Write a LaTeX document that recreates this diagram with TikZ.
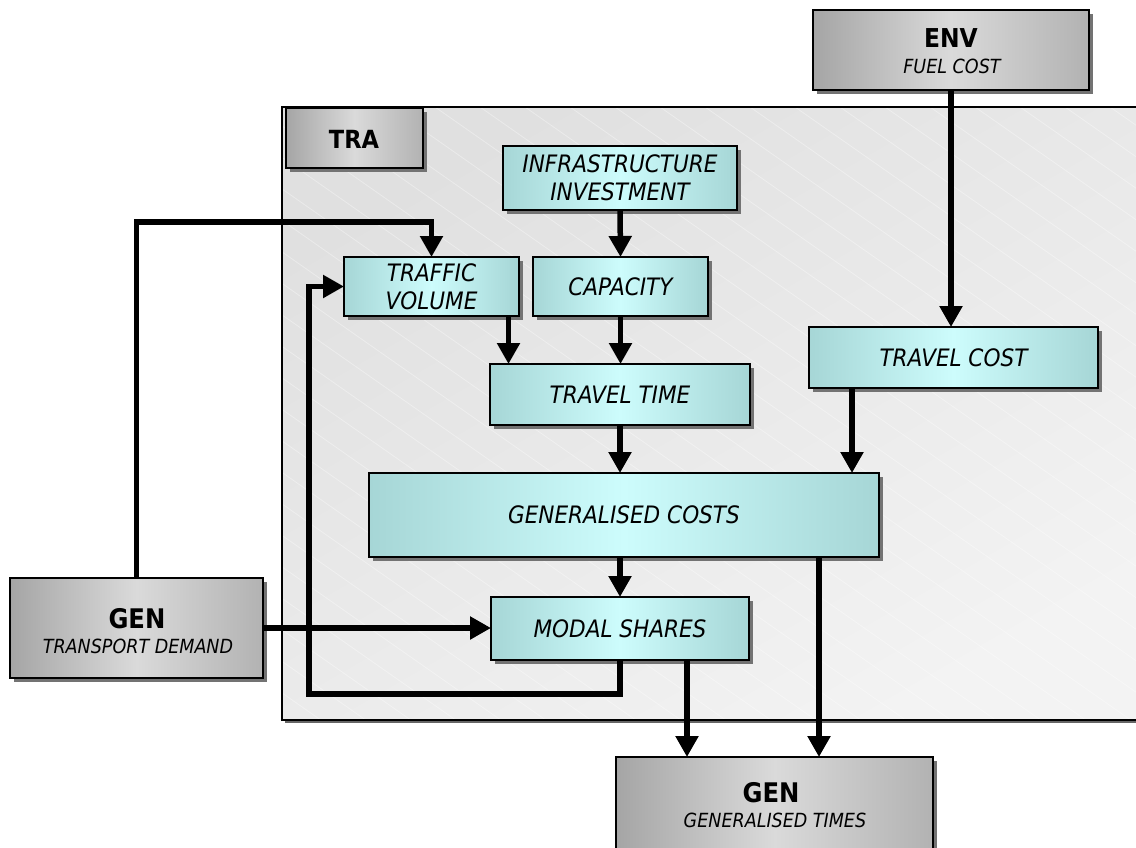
\documentclass[tikz,border=0pt]{standalone}
\usepackage{fontspec}
\setmainfont{DejaVuSansCondensed.ttf}[
  ItalicFont=DejaVuSansCondensed-Oblique.ttf,
  BoldFont=DejaVuSansCondensed-Bold.ttf,
  BoldItalicFont=DejaVuSansCondensed-BoldOblique.ttf]
\usetikzlibrary{arrows.meta,shadows,calc}

\definecolor{panelA}{HTML}{E0E0E0}
\definecolor{panelB}{HTML}{F3F3F3}
\definecolor{tealedge}{HTML}{A6D6D6}
\definecolor{tealmid}{HTML}{CDFCFC}
\definecolor{greyL}{HTML}{A5A5A5}
\definecolor{greyM}{HTML}{DADADA}
\definecolor{greyR}{HTML}{B2B2B2}

\tikzset{
  box/.style={draw=black, line width=1.6pt, inner sep=0pt, outer sep=0pt,
    drop shadow={shadow xshift=4pt, shadow yshift=-4pt, fill=black!55, opacity=1}},
  tealbox/.style={box, left color=tealedge, right color=tealedge, middle color=tealmid,
    font=\fontsize{24}{28}\selectfont\itshape, align=center},
  greybox/.style={box, left color=greyL, right color=greyR, middle color=greyM},
  title/.style={inner sep=0pt, anchor=base, font=\fontsize{26}{26}\selectfont\bfseries},
  subtitle/.style={inner sep=0pt, anchor=base, font=\fontsize{19.5}{19.5}\selectfont\itshape},
  conn/.style={line width=5.5pt, line join=miter, -{Triangle[width=22pt,length=21pt]}},
  stripe/.style={white, line width=0.8pt, opacity=0.35}
}

\begin{document}
\begin{tikzpicture}[x=1pt,y=-1pt]
\useasboundingbox (0,0) rectangle (1136,847);

% transport module panel
\fill[black!60] (285,110) rectangle (1150,723);
\shade[left color=panelA, right color=panelB, shading angle=30] (282,107) rectangle (1150,720);
\begin{scope}
  \clip (282,107) rectangle (1150,720);
  \foreach \i in {0,...,40} { \draw[stripe] (-600+\i*45,107) -- ++(900,630); }
\end{scope}
\draw[black, line width=1.5pt] (1150,107) -- (282,107) -- (282,720) -- (1150,720);

% module boxes
\node[greybox, minimum width=276pt, minimum height=80pt] (env) at (951,50) {};
\node[title] (envT) at (951,47) {ENV};
\node[subtitle] (envS) at (952,73) {FUEL COST};

\node[greybox, minimum width=137pt, minimum height=60pt] (tra) at (354.5,138) {};
\node[title, font=\fontsize{25}{25}\selectfont\bfseries] (traT) at (354,148) {TRA};

\node[greybox, minimum width=253pt, minimum height=100pt] (genL) at (136.5,628) {};
\node[title, font=\fontsize{27}{27}\selectfont\bfseries] (genLT) at (137,628) {GEN};
\node[subtitle] (genLS) at (138,653) {TRANSPORT DEMAND};

\node[greybox, minimum width=317pt, minimum height=106pt] (genB) at (774.5,810) {};
\node[title, font=\fontsize{27}{27}\selectfont\bfseries] (genBT) at (771,802) {GEN};
\node[subtitle] (genBS) at (775,827) {GENERALISED TIMES};

% transport quantities
\node[tealbox, minimum width=234pt, minimum height=64pt] (infra) at (620,178) {INFRASTRUCTURE\\INVESTMENT};
\node[tealbox, minimum width=175pt, minimum height=59pt] (traffic) at (431.5,286.5) {TRAFFIC\\VOLUME};
\node[tealbox, minimum width=175pt, minimum height=59pt] (cap) at (620.5,286.5) {CAPACITY};
\node[tealbox, minimum width=260pt, minimum height=61pt] (tt) at (620,394.5) {TRAVEL TIME};
\node[tealbox, minimum width=289pt, minimum height=61pt] (tcost) at (953.5,357.5) {TRAVEL COST};
\node[tealbox, minimum width=510pt, minimum height=84pt] (gc) at (624,515) {GENERALISED COSTS};
\node[tealbox, minimum width=258pt, minimum height=63pt] (modal) at (620,628.5) {MODAL SHARES};

% connectors
\coordinate (demandTop) at (431.5,222);
\coordinate (loopCorner) at (309,694);

\draw[conn] (env.south) -- (env.south |- tcost.north);
\draw[conn] (infra.south) -- (cap.north);
\draw[conn] ([xshift=77pt]traffic.south) -- ([xshift=77pt]traffic.south |- tt.north);
\draw[conn] (cap.south) -- (cap.south |- tt.north);
\draw[conn] (tt.south) -- (tt.south |- gc.north);
\draw[conn] ([xshift=-101.5pt]tcost.south) -- ([xshift=-101.5pt]tcost.south |- gc.north);
\draw[conn] (modal.north |- gc.south) -- (modal.north);
\draw[conn] (genL.east) -- (genL.east -| modal.west);
\draw[conn] (genL.north) |- (demandTop) -- (traffic.north);
\draw[conn] (modal.south) |- (loopCorner) |- (traffic.west);
\draw[conn] ([xshift=67pt]modal.south) -- ([xshift=67pt]modal.south |- genB.north);
\draw[conn] ([xshift=195pt]gc.south) -- ([xshift=195pt]gc.south |- genB.north);
\end{tikzpicture}
\end{document}
